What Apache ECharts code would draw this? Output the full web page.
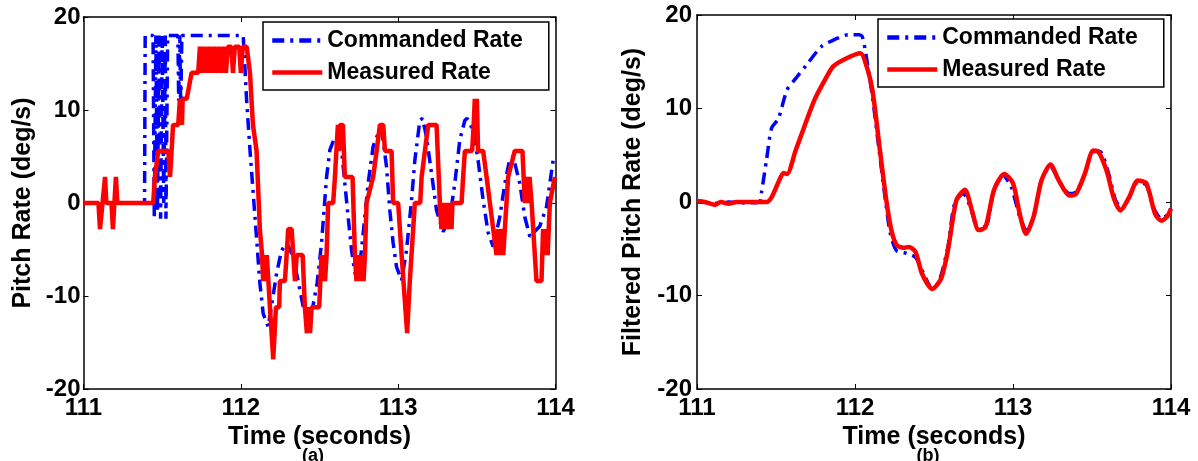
<!DOCTYPE html>
<html>
<head>
<meta charset="utf-8">
<script src="https://cdn.jsdelivr.net/npm/echarts@6/dist/echarts.min.js"></script>
<style>
  html, body { margin: 0; padding: 0; background: #fff; }
  #chart { width: 1198px; height: 461px; }
</style>
</head>
<body>
<div id="chart"></div>
<script>
// (a) raw pitch rate
const aCmdT = [111.0, 111.388, 111.392, 111.442, 111.45, 111.46, 111.47, 111.48, 111.49, 111.5, 111.51, 111.52, 111.524, 111.535, 111.6, 111.605, 111.612, 111.618, 111.625, 112.015, 112.037, 112.058, 112.09, 112.121, 112.142, 112.174, 112.228, 112.259, 112.291, 112.331, 112.363, 112.396, 112.428, 112.458, 112.485, 112.513, 112.545, 112.566, 112.598, 112.63, 112.661, 112.682, 112.704, 112.725, 112.746, 112.778, 112.809, 112.841, 112.873, 112.895, 112.926, 112.947, 112.968, 112.99, 113.022, 113.053, 113.085, 113.106, 113.138, 113.155, 113.18, 113.212, 113.244, 113.286, 113.329, 113.36, 113.392, 113.424, 113.438, 113.477, 113.508, 113.54, 113.572, 113.604, 113.646, 113.678, 113.71, 113.731, 113.773, 113.805, 113.837, 113.848, 113.9, 113.943, 113.985, 114.0];
const aCmdV = [0, 0, 18, 18, -1.7, 18, -1, 18, -1.7, 18, 0, 18, -1.7, 18, 18, 11, 18, 10, 18, 18, 11, 5.7, -1.5, -8.6, -11.9, -13.3, -7.5, -5.1, -4.3, -5.7, -8.3, -11.1, -12.2, -11.1, -8.6, -4.3, 2.8, 5.7, 7.1, 7.5, 2.1, -1.5, -5.1, -7.5, -8.3, -3.2, 2.1, 6.1, 7.5, 7.9, 3.9, -0.8, -4.3, -6.9, -8.3, -5.1, 0.3, 4.6, 8.9, 9.1, 7.1, 3.2, -0.8, -3.1, -1.5, 2.1, 6.8, 8.9, 9.1, 7.8, 4.6, 0.3, -3.2, -4.7, -1.5, 2.1, 4.8, 5.0, 2.1, -1.5, -3.6, -3.7, -2.5, -0.4, 4.6, 5.0];

const aMeasT = [111.0, 111.095, 111.105, 111.137, 111.145, 111.178, 111.187, 111.206, 111.215, 111.443, 111.454, 111.475, 111.539, 111.55, 111.56, 111.569, 111.602, 111.613, 111.618, 111.622, 111.626, 111.63, 111.656, 111.687, 111.729, 111.74, 111.755, 111.768, 111.785, 111.798, 111.815, 111.828, 111.845, 111.858, 111.875, 111.888, 111.905, 111.918, 111.94, 111.95, 111.962, 111.99, 112.0, 112.012, 112.037, 112.058, 112.077, 112.1, 112.121, 112.135, 112.142, 112.15, 112.158, 112.165, 112.175, 112.185, 112.206, 112.223, 112.244, 112.248, 112.28, 112.291, 112.301, 112.323, 112.344, 112.355, 112.393, 112.407, 112.42, 112.43, 112.44, 112.45, 112.498, 112.513, 112.52, 112.527, 112.535, 112.545, 112.555, 112.587, 112.598, 112.617, 112.624, 112.63, 112.649, 112.661, 112.71, 112.725, 112.735, 112.745, 112.755, 112.765, 112.78, 112.789, 112.799, 112.841, 112.863, 112.884, 112.905, 112.916, 112.958, 112.968, 113.0, 113.022, 113.057, 113.074, 113.106, 113.14, 113.149, 113.191, 113.244, 113.265, 113.275, 113.285, 113.295, 113.305, 113.315, 113.325, 113.339, 113.345, 113.403, 113.413, 113.424, 113.47, 113.48, 113.487, 113.495, 113.5, 113.508, 113.54, 113.562, 113.583, 113.604, 113.625, 113.635, 113.645, 113.658, 113.668, 113.678, 113.699, 113.741, 113.79, 113.805, 113.815, 113.825, 113.835, 113.848, 113.879, 113.911, 113.921, 113.93, 113.94, 113.95, 113.964, 113.996, 114.0];
const aMeasV = [0, 0, -2.8, 2.8, 0, 0, -2.8, 2.8, 0, 0, 2.8, 5.6, 5.6, 2.8, 5.6, 8.4, 8.4, 11.2, 8.4, 11.2, 8.4, 11.2, 11.2, 14.0, 14.0, 16.8, 14.0, 16.8, 14.0, 16.8, 14.0, 16.8, 14.0, 16.8, 14.0, 16.8, 14.0, 16.8, 16.8, 14.0, 16.8, 16.8, 14.0, 16.8, 16.8, 14.0, 8.4, 5.6, -2.8, -5.6, -8.4, -5.6, -8.4, -5.6, -8.4, -11.2, -16.8, -11.2, -11.2, -8.4, -8.4, -5.6, -2.8, -2.8, -8.4, -5.6, -5.6, -11.2, -14.0, -11.2, -14.0, -11.2, -11.2, -5.6, -8.4, -5.6, -8.4, -5.6, 0, 0, 2.8, 8.4, 5.6, 8.4, 8.4, 2.8, 2.8, -5.6, -8.4, -5.6, -8.4, -5.6, -8.4, -5.6, 0, 2.8, 5.6, 8.4, 8.4, 5.6, 5.6, 0, 0, -5.6, -14.0, -8.4, 0, 0, 2.8, 8.4, 8.4, 0, -2.8, 0, -2.8, 0, -2.8, 0, -2.8, 0, 0, 2.8, 5.6, 5.6, 8.4, 11.2, 8.4, 11.2, 5.6, 5.6, 2.8, 0, -2.8, -5.6, -2.8, -5.6, -2.8, -5.6, -2.8, 2.8, 5.6, 5.6, 0, 2.8, 0, 2.8, 0, -8.4, -8.4, -2.8, -5.6, -2.8, -5.6, 0, 2.8, 2.8];

// (b) filtered pitch rate
const bCmdT = [111.0, 111.1, 111.15, 111.2, 111.3, 111.396, 111.407, 111.44, 111.472, 111.515, 111.57, 111.624, 111.7, 111.786, 111.873, 111.96, 112.024, 112.046, 112.068, 112.11, 112.155, 112.198, 112.224, 112.263, 112.328, 112.382, 112.436, 112.49, 112.534, 112.588, 112.63, 112.685, 112.729, 112.783, 112.837, 112.88, 112.934, 112.989, 113.043, 113.086, 113.13, 113.18, 113.237, 113.29, 113.357, 113.4, 113.454, 113.508, 113.55, 113.606, 113.649, 113.692, 113.735, 113.79, 113.844, 113.887, 113.94, 113.974, 114.0];
const bCmdV = [0, -0.1, -0.2, 0, -0.1, 0, 0.9, 4.5, 7.9, 8.9, 12.0, 13.2, 14.8, 16.6, 17.4, 17.9, 17.9, 17.7, 15.9, 11.3, 5.2, -0.5, -3.4, -5.2, -5.5, -5.9, -7.7, -9.3, -8.4, -4.8, -0.2, 0.9, -0.5, -3.0, -2.3, 1.3, 2.9, 1.6, -1.6, -3.0, -1.6, 2.3, 3.8, 2.3, 0.9, 1.1, 3.0, 5.4, 5.4, 3.0, 0.2, -0.7, 0.5, 2.1, 1.8, -0.5, -1.8, -1.4, -0.7];

const bMeasT = [111.0, 111.05, 111.115, 111.15, 111.2, 111.25, 111.44, 111.472, 111.515, 111.548, 111.57, 111.624, 111.678, 111.743, 111.808, 111.862, 111.938, 112.035, 112.068, 112.11, 112.155, 112.198, 112.23, 112.263, 112.306, 112.34, 112.382, 112.425, 112.49, 112.545, 112.588, 112.642, 112.696, 112.74, 112.783, 112.826, 112.88, 112.945, 113.0, 113.043, 113.082, 113.13, 113.18, 113.237, 113.29, 113.357, 113.4, 113.454, 113.508, 113.54, 113.595, 113.638, 113.68, 113.735, 113.79, 113.844, 113.9, 113.94, 113.974, 114.0];
const bMeasV = [0.1, 0, -0.3, 0, -0.2, 0, 0, 0.5, 2.1, 3.1, 3.0, 5.5, 8.0, 10.9, 13.0, 14.5, 15.3, 15.9, 14.8, 12.0, 5.9, 0.2, -3.0, -4.6, -4.9, -4.8, -5.3, -7.7, -9.3, -8.2, -5.2, 0.2, 1.3, -0.9, -3.0, -2.7, 1.3, 3.0, 2.0, -1.3, -3.4, -1.6, 2.3, 4.0, 2.3, 0.7, 0.9, 3.0, 5.5, 5.4, 3.2, 0.4, -0.9, 0.5, 2.3, 2.0, -1.3, -2.0, -1.6, -0.7];

const seriesNames = ["Commanded Rate", "Measured Rate"];
const xTicks = [111, 114, 1];   // min, max, interval
const yTicks = [-20, 20, 10];
const yTitles = ["Pitch Rate (deg/s)", "Filtered Pitch Rate (deg/s)"];
const xTitle = "Time (seconds)";
const panelTags = ["(a)", "(b)"];

const FONT = "'Liberation Sans', Arial, sans-serif";

const zip = (t, v) => t.slice(0, Math.min(t.length, v.length)).map((x, i) => [x, v[i]]);

const chart = echarts.init(document.getElementById("chart"));

// 两个面板的坐标区
const grids = [
  { left: 83.5, top: 17, width: 472, height: 372 },
  { left: 697, top: 15, width: 474, height: 374 },
];

const axisLine = { show: true, onZero: false, lineStyle: { color: "#000", width: 1.5 } };
const axisTick = { show: true, inside: true, length: 5, lineStyle: { color: "#000", width: 1 } };
const labelStyle = { color: "#000", fontSize: 24, fontWeight: "bold", fontFamily: FONT };
const nameStyle = { color: "#000", fontSize: 25, fontWeight: "bold", fontFamily: FONT };

const xAxes = [];
const yAxes = [];
grids.forEach((g, i) => {
  // bottom / left axes with labels
  xAxes.push({
    type: "value", gridIndex: i, position: "bottom",
    min: xTicks[0], max: xTicks[1], interval: xTicks[2],
    axisLine, axisTick, splitLine: { show: false },
    axisLabel: { ...labelStyle, margin: 7, showMinLabel: true, showMaxLabel: true },
    name: xTitle, nameLocation: "middle", nameGap: 29, nameTextStyle: nameStyle,
  });
  yAxes.push({
    type: "value", gridIndex: i, position: "left",
    min: yTicks[0], max: yTicks[1], interval: yTicks[2],
    axisLine, axisTick, splitLine: { show: false },
    axisLabel: { ...labelStyle, margin: i === 0 ? 3 : 5 },
    name: yTitles[i], nameLocation: "middle", nameGap: i === 0 ? 48 : 51, nameTextStyle: nameStyle,
  });
  // mirrored top / right axes, ticks only
  xAxes.push({
    type: "value", gridIndex: i, position: "top",
    min: xTicks[0], max: xTicks[1], interval: xTicks[2],
    axisLine, axisTick, splitLine: { show: false }, axisLabel: { show: false },
  });
  yAxes.push({
    type: "value", gridIndex: i, position: "right",
    min: yTicks[0], max: yTicks[1], interval: yTicks[2],
    axisLine, axisTick, splitLine: { show: false }, axisLabel: { show: false },
  });
});

const cmdStyle = { color: "#0000ff", width: 3.5, type: [12, 6, 3, 6] };
const measStyle = { color: "#ff0000", width: 4.5, type: "solid" };

const makeSeries = (name, data, style, i, smooth) => ({
  name, type: "line", data,
  xAxisIndex: i * 2, yAxisIndex: i * 2,
  showSymbol: false, symbol: "none", smooth,
  color: style.color,
  lineStyle: style,
  z: name === seriesNames[1] ? 3 : 2,
});

const legendBase = {
  orient: "vertical",
  data: seriesNames,
  backgroundColor: "#fff",
  borderColor: "#000",
  borderWidth: 1.5,
  padding: [7, 26, 6, 7],
  itemWidth: 50,
  itemHeight: 14,
  itemGap: 9,
  selectedMode: false,
  itemStyle: { opacity: 0 },
  lineStyle: { width: 4.5 },
  textStyle: { color: "#000", fontSize: 23, fontWeight: "bold", fontFamily: FONT },
};

const option = {
  animation: false,
  backgroundColor: "#fff",
  grid: grids,
  xAxis: xAxes,
  yAxis: yAxes,
  legend: [
    { ...legendBase, left: 263, top: 22 },
    { ...legendBase, left: 878, top: 19 },
  ],
  series: [
    makeSeries(seriesNames[0], zip(aCmdT, aCmdV), cmdStyle, 0, false),
    makeSeries(seriesNames[1], zip(aMeasT, aMeasV), measStyle, 0, false),
    makeSeries(seriesNames[0], zip(bCmdT, bCmdV), cmdStyle, 1, 0.25),
    makeSeries(seriesNames[1], zip(bMeasT, bMeasV), measStyle, 1, 0.25),
  ],
  graphic: panelTags.map((tag, i) => ({
    type: "text",
    x: i === 0 ? 313 : 928,
    y: 447,
    style: { text: tag, align: "center", verticalAlign: "top", fill: "#000", font: "bold 18px " + FONT },
  })),
};

chart.setOption(option);

window.addEventListener("resize", () => {
  chart.resize();
});
</script>
</body>
</html>
